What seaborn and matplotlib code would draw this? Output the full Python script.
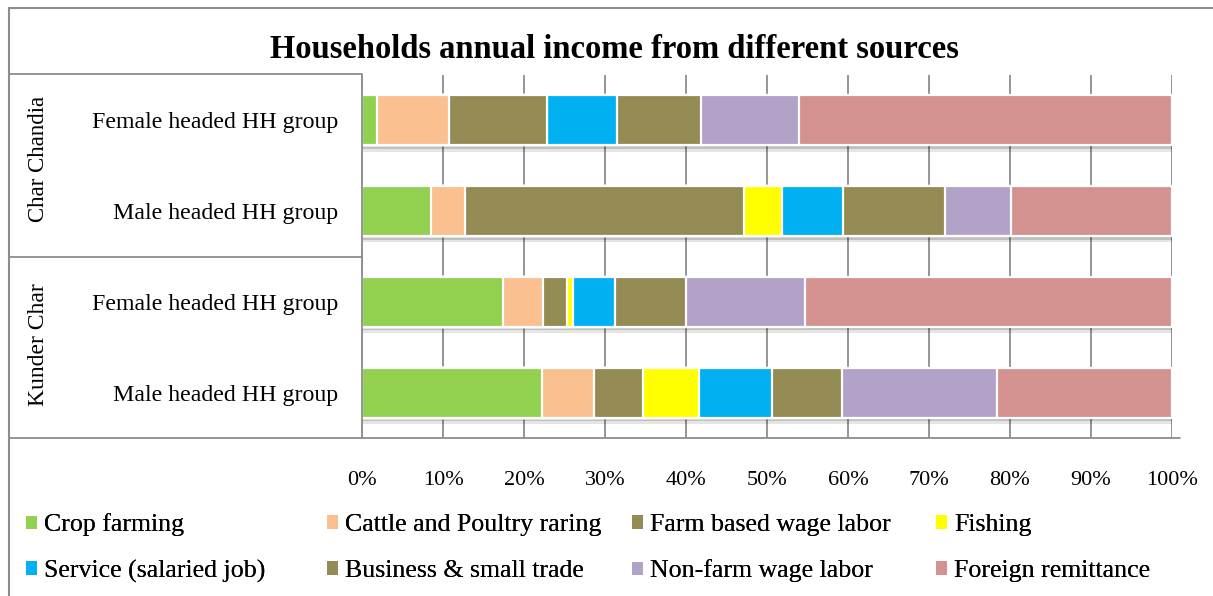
import matplotlib
matplotlib.use("Agg")
import matplotlib.pyplot as plt
import matplotlib.patheffects as pe
from matplotlib.lines import Line2D
from matplotlib.patches import Patch, Rectangle
import numpy as np
import pandas as pd
import seaborn as sns

# ---- data (share of annual income, %) ----
regions = ["Char Chandia", "Char Chandia", "Kunder Char", "Kunder Char"]
hh_types = ["Female headed HH group", "Male headed HH group",
            "Female headed HH group", "Male headed HH group"]

sources = ["Crop farming", "Cattle and Poultry raring", "Farm based wage labor",
           "Fishing", "Service (salaried job)", "Business & small trade",
           "Non-farm wage labor", "Foreign remittance"]

crop_farming = [1.8, 8.5, 17.4, 22.2]
cattle_poultry = [9.0, 4.2, 4.9, 6.4]
farm_wage = [12.0, 34.5, 3.0, 6.1]
fishing = [0.0, 4.6, 0.8, 6.9]
service = [8.7, 7.6, 5.1, 9.0]
business = [10.3, 12.6, 8.8, 8.6]
nonfarm_wage = [12.1, 8.1, 14.7, 19.2]
remittance = [46.1, 19.9, 45.3, 21.6]

tick_labels = ["0%", "10%", "20%", "30%", "40%", "50%",
               "60%", "70%", "80%", "90%", "100%"]

colors = ["#92D050", "#FAC090", "#948A54", "#FFFF00",
          "#00B0F0", "#948A54", "#B3A2C7", "#D39190"]

series = [crop_farming, cattle_poultry, farm_wage, fishing,
          service, business, nonfarm_wage, remittance]

# ---- figure ----
sns.set_theme(style="white")
plt.rcParams["font.family"] = ["Liberation Serif", "DejaVu Serif"]
plt.rcParams["text.color"] = "black"
plt.rcParams["xtick.color"] = "black"
plt.rcParams["ytick.color"] = "black"

W, H = 1213, 596
fig = plt.figure(figsize=(W / 100, H / 100), dpi=100)


def fx(px):
    return px / W


def fy(py):
    return 1 - py / H


ax_left, ax_right, ax_top, ax_bot = 362, 1172, 75, 438
ax = fig.add_axes([fx(ax_left), fy(ax_bot), fx(ax_right - ax_left), (ax_bot - ax_top) / H])

row_keys = [f"{r}|{t}" for r, t in zip(regions, hh_types)]
df = pd.DataFrame({"row": row_keys})
vals = np.array(series, dtype=float)
cums = np.cumsum(vals, axis=0)

# stacked bars: draw cumulative totals from the outermost layer inward
shadow = [pe.SimplePatchShadow(offset=(0.5, -4.5), shadow_rgbFace="black", alpha=0.10),
          pe.SimplePatchShadow(offset=(0.3, -2.5), shadow_rgbFace="black", alpha=0.16),
          pe.Normal()]
for i in reversed(range(len(sources))):
    df["cum"] = cums[i]
    n_before = len(ax.patches)
    sns.barplot(data=df, x="cum", y="row", order=row_keys, orient="h",
                color=colors[i], saturation=1, width=0.55,
                edgecolor="white", linewidth=1.6, ax=ax)
    if i == len(sources) - 1:
        for p in ax.patches[n_before:]:
            p.set_path_effects(shadow)

ax.set_xlim(0, 100)
ax.set_ylim(3.5, -0.5)
ax.set_xlabel("")
ax.set_ylabel("")
ax.set_xticks(np.arange(0, 101, 10))
ax.set_xticklabels(tick_labels, fontsize=16)
ax.set_yticks(range(4))
ax.set_yticklabels(hh_types, fontsize=17.2)
ax.tick_params(axis="x", length=0, pad=24)
ax.tick_params(axis="y", length=0, pad=17)
ax.grid(axis="x", color="#8c8c8c", linewidth=1.3)
ax.grid(axis="y", visible=False)
ax.set_axisbelow(True)
for s in ["top", "right", "bottom"]:
    ax.spines[s].set_visible(False)
ax.spines["left"].set_color("#8c8c8c")
ax.spines["left"].set_linewidth(1.3)

# outer frame and row-group table lines
fig.add_artist(Rectangle((fx(9), fy(700)), fx(1300), (700 - 8) / H,
                         transform=fig.transFigure, fill=False,
                         edgecolor="#8c8c8c", linewidth=1.5))
line_kw = dict(transform=fig.transFigure, color="#8c8c8c", linewidth=1.3)
fig.add_artist(Line2D([fx(10), fx(362)], [fy(74), fy(74)], **line_kw))
fig.add_artist(Line2D([fx(10), fx(362)], [fy(257), fy(257)], **line_kw))
fig.add_artist(Line2D([fx(10), fx(1180)], [fy(438), fy(438)], **line_kw))

# region labels
fig.text(fx(39), fy(159), "Char Chandia", rotation=90, ha="center", va="center", fontsize=16.5)
fig.text(fx(39), fy(345), "Kunder Char", rotation=90, ha="center", va="center", fontsize=17)

# title
fig.text(fx(614), fy(50), "Households annual income from different sources",
         ha="center", va="center", fontsize=23.5, fontweight="bold")

# legend: four columns of two entries
handles = [Patch(facecolor=c, edgecolor="none") for c in colors]
col_x = [26, 327, 632, 936]
row_y = [525, 571]
for j, (h, lab) in enumerate(zip(handles, sources)):
    c, r = j % 4, j // 4
    leg = fig.legend([h], [lab], loc="center left",
                     bbox_to_anchor=(fx(col_x[c]), fy(row_y[r])),
                     frameon=False, fontsize=18.6, ncol=1,
                     handlelength=0.43, handleheight=0.43, handletextpad=0.28,
                     borderpad=0, borderaxespad=0)
    fig.add_artist(leg)

fig.savefig("out.png", dpi=100)
